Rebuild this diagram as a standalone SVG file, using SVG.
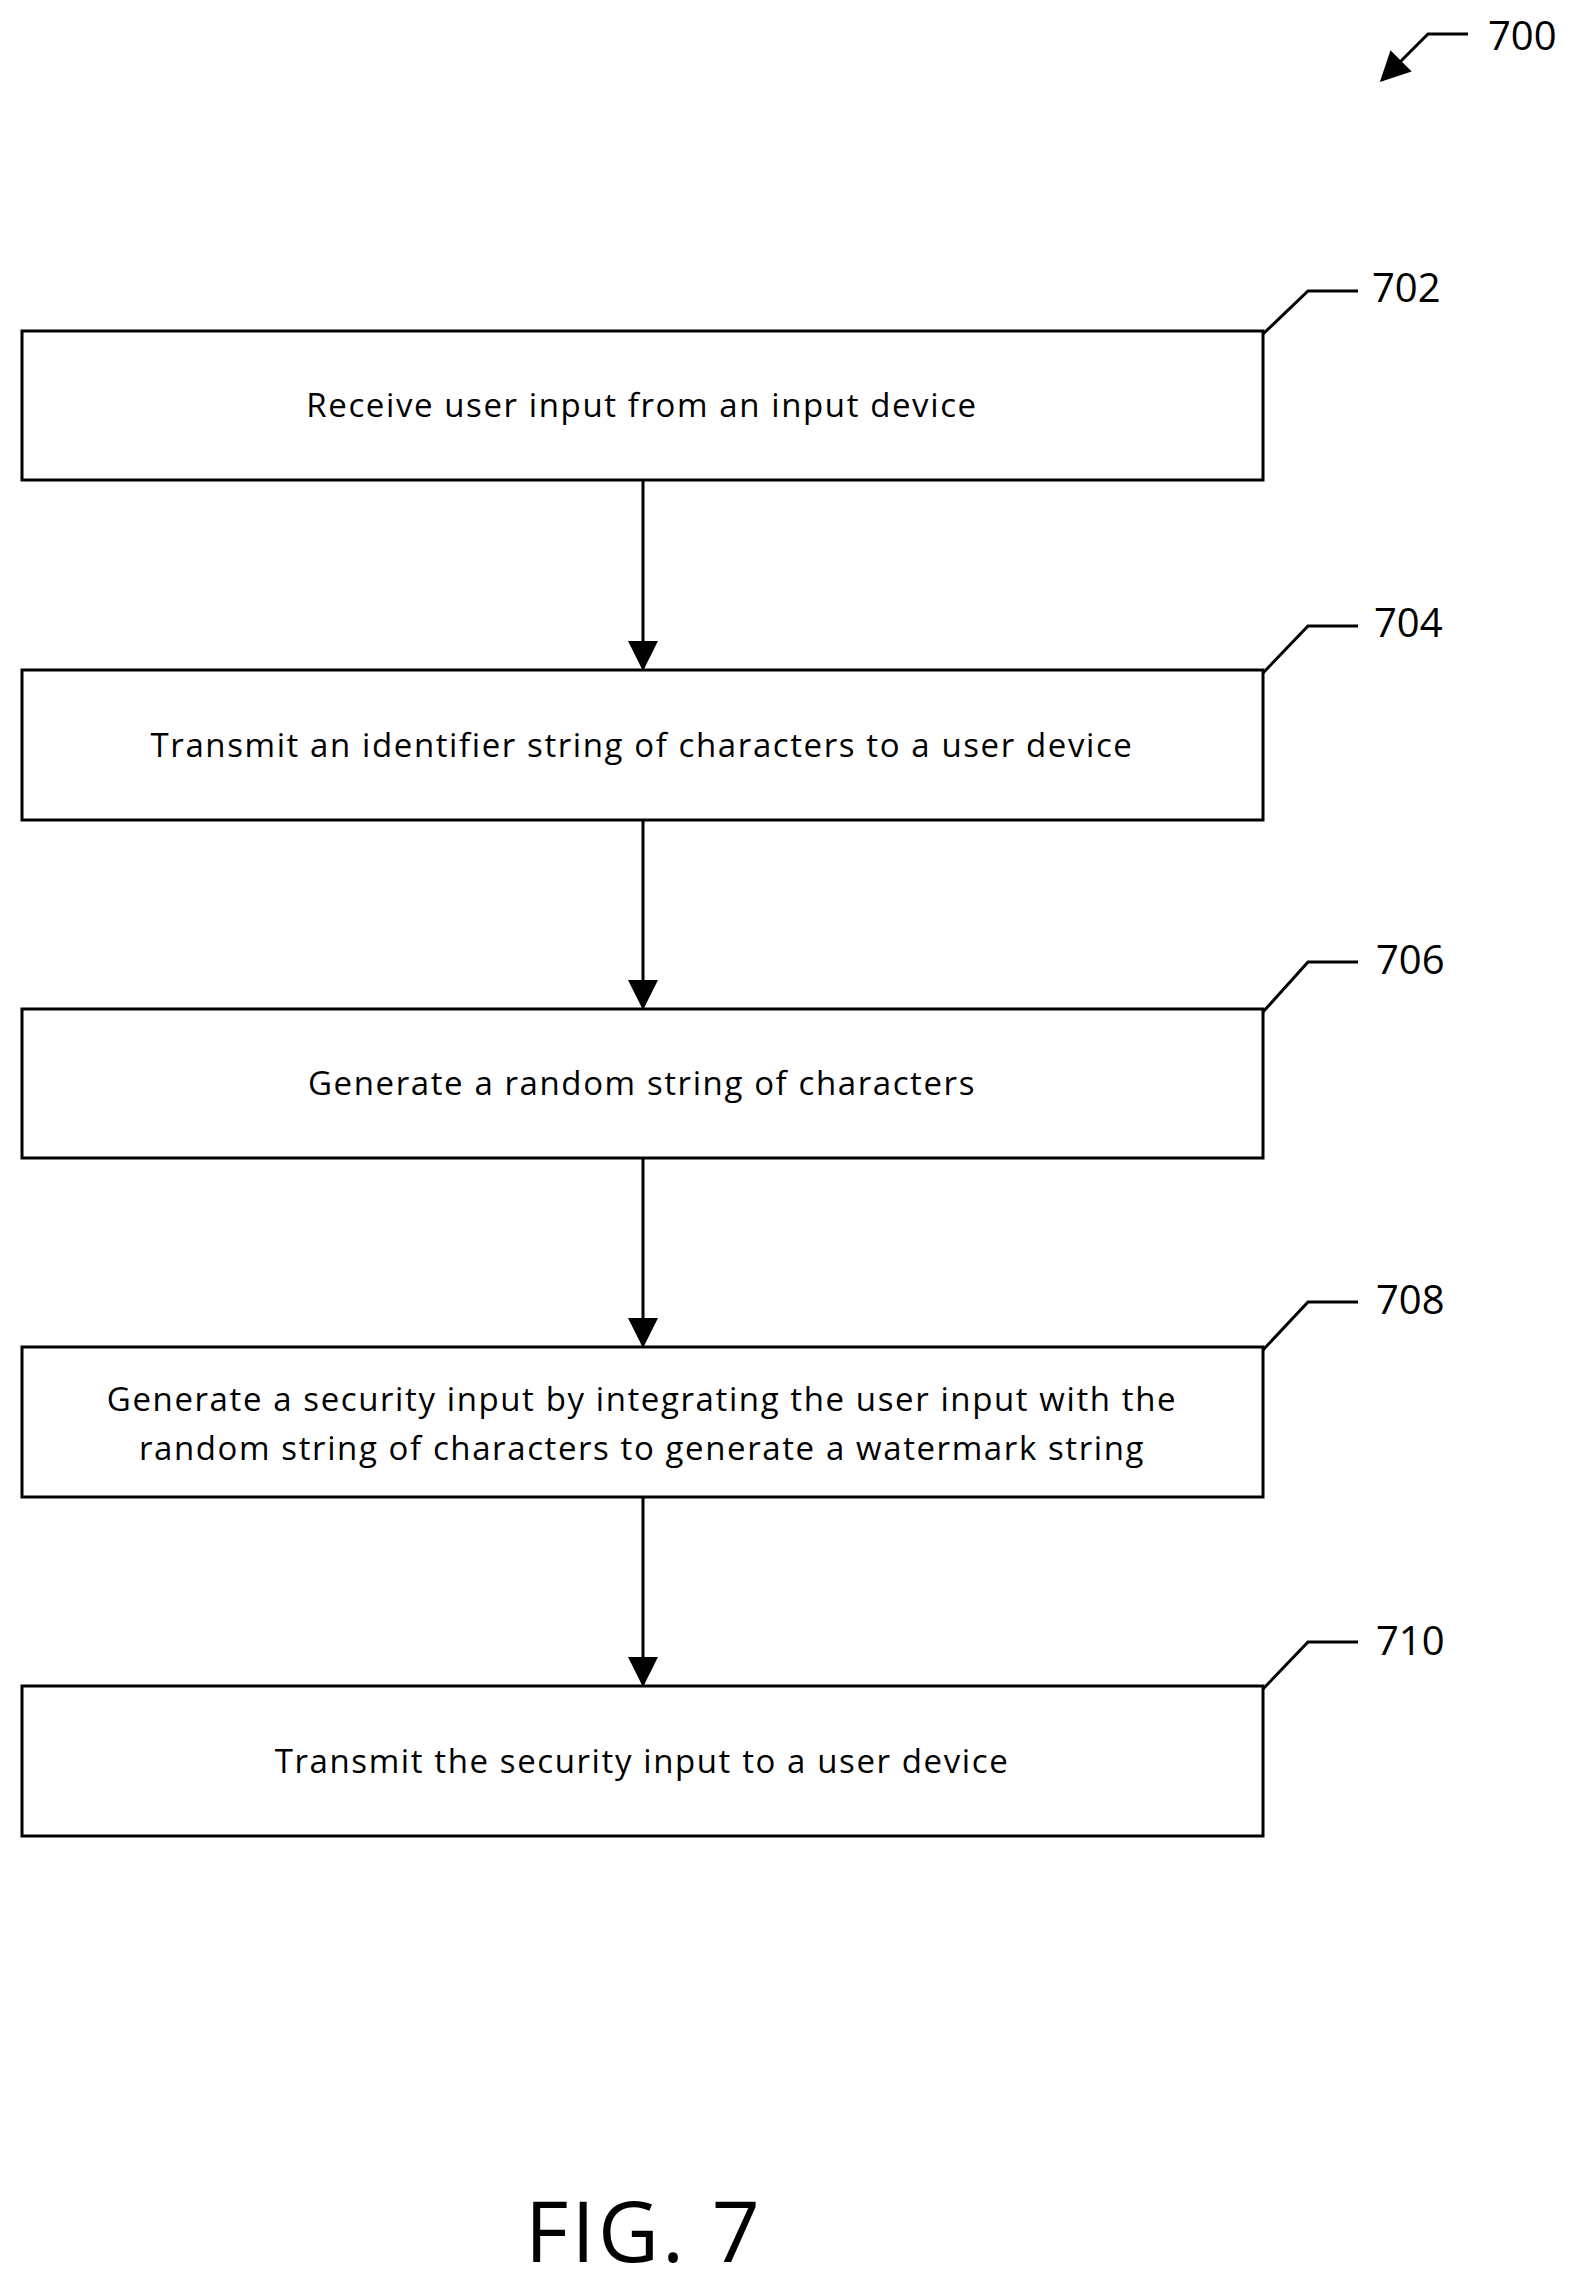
<svg xmlns="http://www.w3.org/2000/svg" width="1578" height="2286" viewBox="0 0 1578 2286">
<style>
.b{fill:#fff;stroke:#000;stroke-width:3}
.t{font-family:"Open Sans","Liberation Sans",sans-serif;font-size:33px;letter-spacing:1.6px;text-anchor:middle;fill:#000}
.n{font-family:"Open Sans","Liberation Sans",sans-serif;font-size:40px;fill:#000}
.l{fill:none;stroke:#000;stroke-width:3}
</style>
<defs><marker id="a" markerWidth="10" markerHeight="10" refX="9" refY="5" orient="auto" markerUnits="strokeWidth"><path d="M0,0L10,5L0,10z" fill="#000"/></marker></defs>
<rect width="1578" height="2286" fill="#fff"/>
<g id="ref700"><text class="n" x="1488" y="50">700</text><path class="l" d="M1468,34H1428L1382,80" marker-end="url(#a)"/></g>
<g id="n702"><rect class="b" x="22" y="331" width="1241" height="149"/><text class="t" x="642" y="417">Receive user input from an input device</text><path class="l" d="M1263,334L1308,291H1358"/><text class="n" x="1372" y="302">702</text></g>
<g id="n704"><rect class="b" x="22" y="670" width="1241" height="150"/><text class="t" x="642" y="757">Transmit an identifier string of characters to a user device</text><path class="l" d="M1263,673L1308,626H1358"/><text class="n" x="1374" y="637">704</text></g>
<g id="n706"><rect class="b" x="22" y="1009" width="1241" height="149"/><text class="t" x="642" y="1095">Generate a random string of characters</text><path class="l" d="M1263,1012L1308,962H1358"/><text class="n" x="1376" y="974">706</text></g>
<g id="n708"><rect class="b" x="22" y="1347" width="1241" height="150"/><text class="t" x="642" y="1411">Generate a security input by integrating the user input with the</text><text class="t" x="642" y="1460">random string of characters to generate a watermark string</text><path class="l" d="M1263,1350L1308,1302H1358"/><text class="n" x="1376" y="1314">708</text></g>
<g id="n710"><rect class="b" x="22" y="1686" width="1241" height="150"/><text class="t" x="642" y="1773">Transmit the security input to a user device</text><path class="l" d="M1263,1689L1308,1642H1358"/><text class="n" x="1376" y="1655">710</text></g>
<g id="connectors">
<path class="l" d="M643,480V668" marker-end="url(#a)"/>
<path class="l" d="M643,820V1007" marker-end="url(#a)"/>
<path class="l" d="M643,1158V1345" marker-end="url(#a)"/>
<path class="l" d="M643,1497V1684" marker-end="url(#a)"/>
</g>
<text x="644" y="2262" font-family="Open Sans,Liberation Sans,sans-serif" font-size="84" letter-spacing="3" text-anchor="middle">FIG. 7</text>
</svg>
